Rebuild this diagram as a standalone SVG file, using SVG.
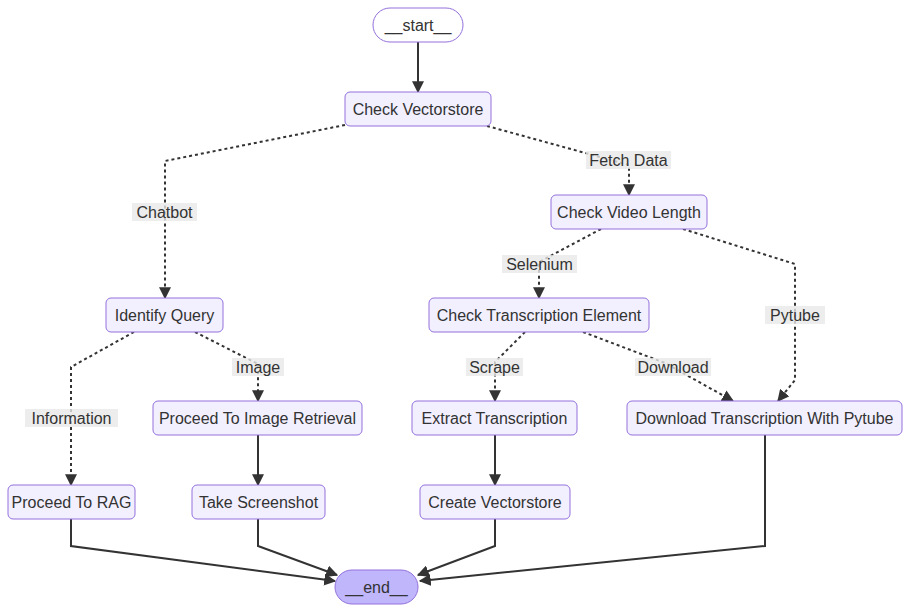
<svg xmlns="http://www.w3.org/2000/svg" width="910" height="612" viewBox="0 0 910 612">
<defs>
<marker id="arr" viewBox="0 0 10 10" refX="9" refY="5" markerWidth="12" markerHeight="12" markerUnits="userSpaceOnUse" orient="auto">
<path d="M0,0 L10,5 L0,10 z" fill="#333"/>
</marker>
<style>
.node rect{fill:#f2f0ff;stroke:#9370DB;stroke-width:1}
.node text,.lbl text{font-family:"Liberation Sans",Arial,sans-serif;font-size:16px;fill:#333;text-anchor:middle;dominant-baseline:central}
.e{fill:none;stroke:#333;stroke-width:2;marker-end:url(#arr)}
.d{stroke-dasharray:3 3}
.lbl rect{fill:#e8e8e8;fill-opacity:0.8}
</style>
</defs>
<rect width="910" height="612" fill="#fff"/>
<g id="edges">
<path class="e" d="M418,42 L418,92"/>
<path class="e d" d="M345,125 L165,161 L165,298"/>
<path class="e d" d="M487,126 L629,165 L629,195"/>
<path class="e d" d="M601,229 L539,262 L539,298"/>
<path class="e d" d="M683,229 L795,264 L795,380 L778,401"/>
<path class="e d" d="M134,332 L71,367 L71,485"/>
<path class="e d" d="M195,332 L258,364 L258,401"/>
<path class="e d" d="M525,332 L495,362 L495,401"/>
<path class="e d" d="M583,332 L665,363 L733,401"/>
<path class="e" d="M258,435 L258,485"/>
<path class="e" d="M495,435 L495,485"/>
<path class="e" d="M71,519 L71,546 L335,581"/>
<path class="e" d="M258,519 L258,546 L337,575"/>
<path class="e" d="M495,519 L495,546 L418,575"/>
<path class="e" d="M765,435 L765,546 L420,581"/>
</g>
<g id="labels">
<g class="lbl"><rect x="132" y="203" width="65" height="18"/><text x="164.5" y="212">Chatbot</text></g>
<g class="lbl"><rect x="586" y="151" width="85" height="18"/><text x="628.5" y="160">Fetch Data</text></g>
<g class="lbl"><rect x="502" y="255" width="75" height="18"/><text x="539.5" y="264">Selenium</text></g>
<g class="lbl"><rect x="765" y="306" width="60" height="18"/><text x="795" y="315">Pytube</text></g>
<g class="lbl"><rect x="25" y="409" width="93" height="18"/><text x="71.5" y="418">Information</text></g>
<g class="lbl"><rect x="232" y="358" width="52" height="18"/><text x="258" y="367">Image</text></g>
<g class="lbl"><rect x="466" y="358" width="57" height="18"/><text x="494.5" y="367">Scrape</text></g>
<g class="lbl"><rect x="635" y="358" width="76" height="18"/><text x="673" y="367">Download</text></g>
</g>
<g id="start" class="node"><rect x="373" y="8" width="90" height="34" rx="17" style="fill:#fff"/><text x="418" y="25">__start__</text></g>
<g id="check_vectorstore" class="node"><rect x="345" y="92" width="146" height="34" rx="5"/><text x="418" y="109">Check Vectorstore</text></g>
<g id="check_video_length" class="node"><rect x="551" y="195" width="156" height="34" rx="5"/><text x="629" y="212">Check Video Length</text></g>
<g id="identify_query" class="node"><rect x="106" y="298" width="117" height="34" rx="5"/><text x="164.5" y="315">Identify Query</text></g>
<g id="check_transcription_element" class="node"><rect x="429" y="298" width="220" height="34" rx="5"/><text x="539" y="315">Check Transcription Element</text></g>
<g id="proceed_to_image_retrieval" class="node"><rect x="153" y="401" width="209" height="34" rx="5"/><text x="257.5" y="418">Proceed To Image Retrieval</text></g>
<g id="extract_transcription" class="node"><rect x="412" y="401" width="165" height="34" rx="5"/><text x="494.5" y="418">Extract Transcription</text></g>
<g id="download_transcription" class="node"><rect x="627" y="401" width="275" height="34" rx="5"/><text x="764.5" y="418">Download Transcription With Pytube</text></g>
<g id="proceed_to_rag" class="node"><rect x="8" y="485" width="127" height="34" rx="5"/><text x="71.5" y="502">Proceed To RAG</text></g>
<g id="take_screenshot" class="node"><rect x="192" y="485" width="133" height="34" rx="5"/><text x="258.5" y="502">Take Screenshot</text></g>
<g id="create_vectorstore" class="node"><rect x="420" y="485" width="150" height="34" rx="5"/><text x="495" y="502">Create Vectorstore</text></g>
<g id="end" class="node"><rect x="335" y="570" width="83" height="34" rx="17" style="fill:#bfb6fc"/><text x="376.5" y="587">__end__</text></g>
</svg>
